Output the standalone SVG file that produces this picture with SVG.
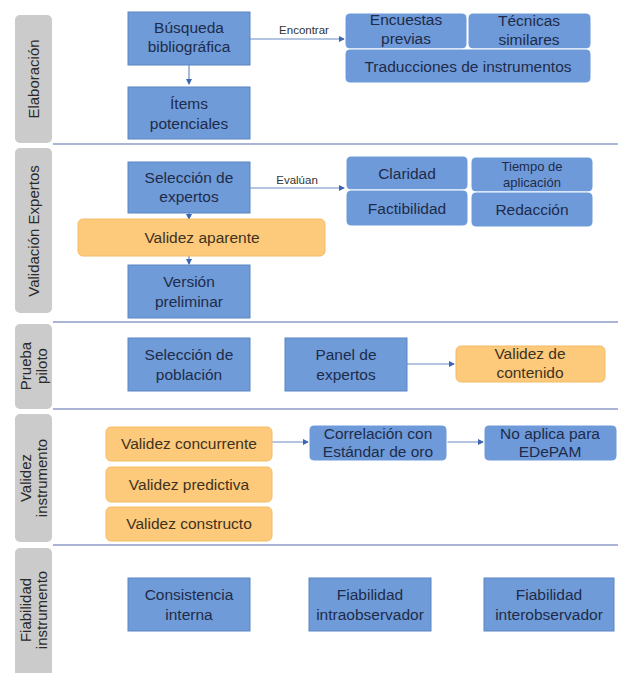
<svg xmlns="http://www.w3.org/2000/svg" width="618" height="673" viewBox="0 0 618 673">
<style>
text{font-family:"Liberation Sans",Arial,sans-serif;text-anchor:middle}
.lane{fill:#cbcbcb}
.lt{font-size:15px;fill:#2a2a2a}
.sep{stroke:#aab4d6;stroke-width:2}
.b{fill:#6f9bd8;stroke:#5b86c2;stroke-width:1}
.rb{fill:#6e9ad9;stroke:#ffffff;stroke-width:1}
.o{fill:#fdc97b;stroke:#f4bb66;stroke-width:1}
.bt{font-size:15.5px;fill:#1e2b4a}
.ot{font-size:15.5px;fill:#3e3320}
.c{stroke:#6b8cc6;stroke-width:1.2;fill:none;marker-end:url(#ah)}
.cl{font-size:11.5px;fill:#333}
</style>
<defs>
<marker id="ah" viewBox="0 0 6 6" refX="5" refY="3" markerWidth="5" markerHeight="5" orient="auto">
<path d="M0,0 L6,3 L0,6 z" fill="#3d66b0"/>
</marker>
</defs>
<rect width="618" height="673" fill="#ffffff"/>

<g id="lanes">
<rect class="lane" x="15" y="15" width="37" height="128" rx="5"/>
<text class="lt" transform="translate(39,79) rotate(-90)">Elaboración</text>
<rect class="lane" x="15" y="148" width="37" height="165" rx="5"/>
<text class="lt" transform="translate(39,231) rotate(-90)">Validación Expertos</text>
<rect class="lane" x="15" y="324" width="37" height="85" rx="5"/>
<text class="lt" transform="translate(31,366) rotate(-90)">Prueba</text>
<text class="lt" transform="translate(47,366) rotate(-90)">piloto</text>
<rect class="lane" x="15" y="414" width="37" height="128" rx="5"/>
<text class="lt" transform="translate(31,478) rotate(-90)">Validez</text>
<text class="lt" transform="translate(47,478) rotate(-90)">instrumento</text>
<rect class="lane" x="15" y="548" width="37" height="130" rx="5"/>
<text class="lt" transform="translate(31,610) rotate(-90)">Fiabilidad</text>
<text class="lt" transform="translate(47,610) rotate(-90)">instrumento</text>
<line class="sep" x1="53" y1="144" x2="618" y2="144"/>
<line class="sep" x1="53" y1="322" x2="618" y2="322"/>
<line class="sep" x1="53" y1="409" x2="618" y2="409"/>
<line class="sep" x1="53" y1="545" x2="618" y2="545"/>
</g>

<g id="connectors">
<line class="c" x1="189" y1="65" x2="189" y2="84"/>
<line class="c" x1="250" y1="39" x2="344" y2="39"/>
<text class="cl" x="304" y="34">Encontrar</text>
<line class="c" x1="189" y1="213" x2="189" y2="219"/>
<line class="c" x1="189" y1="256" x2="189" y2="264"/>
<line class="c" x1="250" y1="188" x2="344" y2="188"/>
<text class="cl" x="297" y="184">Evalúan</text>
<line class="c" x1="407" y1="364" x2="454" y2="364"/>
<line class="c" x1="272" y1="442" x2="308" y2="442"/>
<line class="c" x1="447" y1="442" x2="483" y2="442"/>
</g>

<g id="busqueda"><rect class="b" x="128" y="12" width="122" height="53"/>
<text class="bt" x="189" y="33">Búsqueda</text><text class="bt" x="189" y="52">bibliográfica</text></g>
<g id="items"><rect class="b" x="128" y="87" width="122" height="52"/>
<text class="bt" x="189" y="109">Ítems</text><text class="bt" x="189" y="129">potenciales</text></g>
<g id="encuestas"><rect class="rb" x="345" y="13" width="122" height="36" rx="5"/>
<text class="bt" x="406" y="25">Encuestas</text><text class="bt" x="406" y="44">previas</text></g>
<g id="tecnicas"><rect class="rb" x="468" y="13" width="123" height="36" rx="5"/>
<text class="bt" x="529" y="26">Técnicas</text><text class="bt" x="529" y="45">similares</text></g>
<g id="traducciones"><rect class="rb" x="345" y="49" width="246" height="34" rx="5"/>
<text class="bt" x="468" y="72">Traducciones de instrumentos</text></g>

<g id="seleccion-expertos"><rect class="b" x="128" y="162" width="122" height="51"/>
<text class="bt" x="189" y="183">Selección de</text><text class="bt" x="189" y="202">expertos</text></g>
<g id="validez-aparente"><rect class="o" x="78" y="219" width="247" height="37" rx="5"/>
<text class="ot" x="202" y="243">Validez aparente</text></g>
<g id="version"><rect class="b" x="128" y="265" width="122" height="53"/>
<text class="bt" x="189" y="287">Versión</text><text class="bt" x="189" y="307">preliminar</text></g>
<g id="claridad"><rect class="rb" x="346" y="156" width="122" height="34" rx="5"/>
<text class="bt" x="407" y="179">Claridad</text></g>
<g id="factibilidad"><rect class="rb" x="346" y="190" width="122" height="36" rx="5"/>
<text class="bt" x="407" y="214">Factibilidad</text></g>
<g id="tiempo"><rect class="rb" x="471" y="157" width="122" height="35" rx="5"/>
<text class="bt" x="532" y="171" style="font-size:13px">Tiempo de</text><text class="bt" x="532" y="187" style="font-size:13px">aplicación</text></g>
<g id="redaccion"><rect class="rb" x="471" y="192" width="122" height="35" rx="5"/>
<text class="bt" x="532" y="215">Redacción</text></g>

<g id="seleccion-poblacion"><rect class="b" x="128" y="338" width="122" height="53"/>
<text class="bt" x="189" y="360">Selección de</text><text class="bt" x="189" y="380">población</text></g>
<g id="panel"><rect class="b" x="285" y="338" width="122" height="53"/>
<text class="bt" x="346" y="360">Panel de</text><text class="bt" x="346" y="380">expertos</text></g>
<g id="validez-contenido"><rect class="o" x="456" y="346" width="149" height="36" rx="5"/>
<text class="ot" x="530" y="359">Validez de</text><text class="ot" x="530" y="378">contenido</text></g>

<g id="validez-concurrente"><rect class="o" x="106" y="427" width="166" height="34" rx="5"/>
<text class="ot" x="189" y="449">Validez concurrente</text></g>
<g id="validez-predictiva"><rect class="o" x="106" y="467" width="166" height="35" rx="5"/>
<text class="ot" x="189" y="490">Validez predictiva</text></g>
<g id="validez-constructo"><rect class="o" x="106" y="507" width="166" height="34" rx="5"/>
<text class="ot" x="189" y="529">Validez constructo</text></g>
<g id="correlacion"><rect class="rb" x="309" y="425" width="138" height="36" rx="5"/>
<text class="bt" x="378" y="439">Correlación con</text><text class="bt" x="378" y="457">Estándar de oro</text></g>
<g id="no-aplica"><rect class="rb" x="484" y="425" width="133" height="36" rx="5"/>
<text class="bt" x="550" y="439">No aplica para</text><text class="bt" x="550" y="457">EDePAM</text></g>

<g id="consistencia"><rect class="b" x="128" y="578" width="122" height="53"/>
<text class="bt" x="189" y="600">Consistencia</text><text class="bt" x="189" y="620">interna</text></g>
<g id="intra"><rect class="b" x="309" y="578" width="122" height="53"/>
<text class="bt" x="370" y="600">Fiabilidad</text><text class="bt" x="370" y="620">intraobservador</text></g>
<g id="inter"><rect class="b" x="484" y="578" width="130" height="53"/>
<text class="bt" x="549" y="600">Fiabilidad</text><text class="bt" x="549" y="620">interobservador</text></g>
</svg>
